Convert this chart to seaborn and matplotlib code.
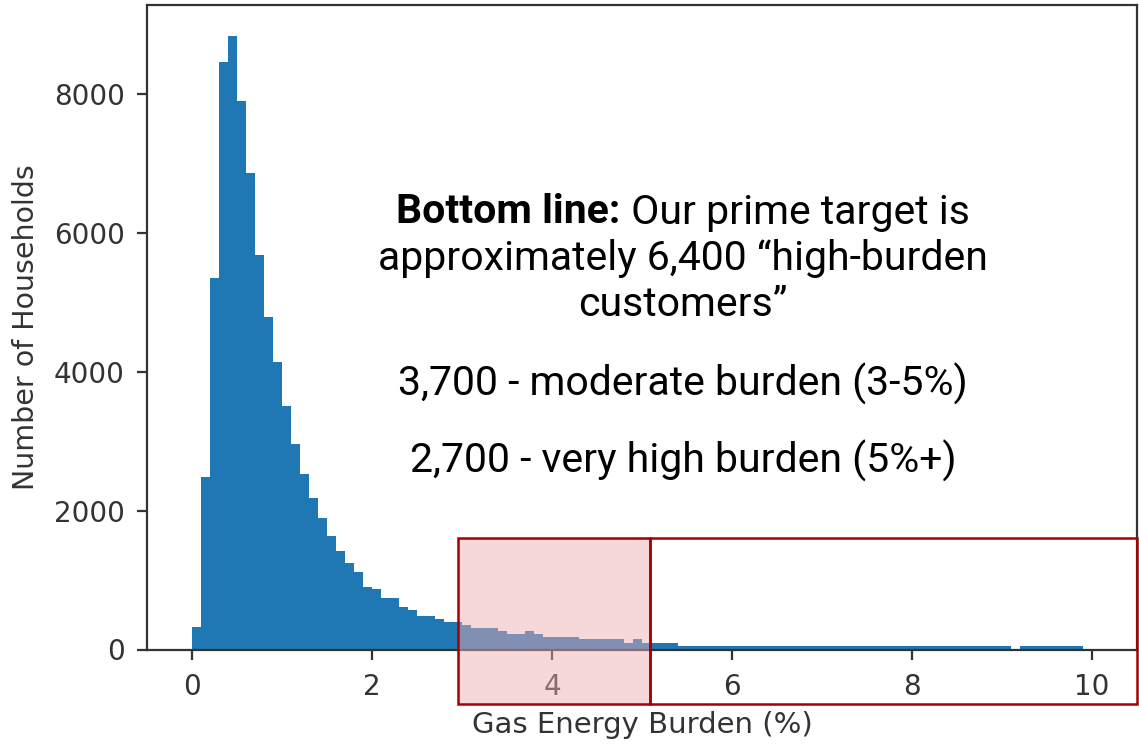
"""Gas energy burden histogram with high-burden annotation boxes"""
import numpy as np
import pandas as pd
import seaborn as sns
import matplotlib.pyplot as plt
from matplotlib.patches import Rectangle

# households per 0.1% bin of gas energy burden, bins 0.0-0.1 ... 9.9-10.0
bin_edges = [round(0.1 * i, 1) for i in range(101)]
counts = [320, 2490, 5350, 8470, 8845, 7910, 6875, 5685, 4795, 4145,
          3510, 2955, 2530, 2190, 1890, 1635, 1425, 1250, 1120, 905,
          865, 740, 740, 610, 570, 485, 485, 440, 400, 400,
          355, 315, 315, 305, 270, 225, 225, 270, 225, 185,
          185, 185, 185, 150, 150, 150, 150, 150, 100, 150,
          95, 100, 100, 100, 55, 55, 55, 55, 55, 55,
          55, 55, 55, 55, 55, 55, 55, 55, 55, 55,
          55, 55, 55, 55, 55, 55, 55, 55, 55, 55,
          55, 55, 55, 55, 55, 55, 55, 55, 55, 55,
          55, 0, 55, 55, 55, 55, 55, 55, 55, 0]
x_ticks = [0, 2, 4, 6, 8, 10]
y_ticks = [0, 2000, 4000, 6000, 8000]

headline_bold = "Bottom line:"
headline_rest = " Our prime target is"
headline_more = ["approximately 6,400 \u201chigh-burden", "customers\u201d"]
moderate_txt = "3,700 - moderate burden (3-5%)"
very_high_txt = "2,700 - very high burden (5%+)"

df = pd.DataFrame({"burden": np.array(bin_edges[:-1]) + 0.05, "households": counts})

sns.set_style("ticks")
plt.rcParams["font.family"] = ["DejaVu Sans"]

W, H = 1139, 747
fig = plt.figure(figsize=(W / 100, H / 100), dpi=100)
ax = fig.add_axes([147 / W, 1 - 649.5 / H, 990 / W, 644.5 / H])

sns.histplot(data=df, x="burden", weights="households", bins=bin_edges,
             element="step", fill=True, color="#1f77b4", alpha=1,
             linewidth=0, ax=ax)

ax.set_xlim(-0.5, 10.5)
ax.set_ylim(0, 9290)
ax.set_xticks(x_ticks)
ax.set_yticks(y_ticks)
ax.set_xlabel("Gas Energy Burden (%)", fontsize=21, color=".2", labelpad=7)
ax.set_ylabel("Number of Households", fontsize=20.5, color=".2", labelpad=10)
ax.tick_params(labelsize=20, length=7, width=1.6, colors=".2")
ax.tick_params(axis="x", pad=10)
ax.tick_params(axis="y", pad=9)
for sp in ax.spines.values():
    sp.set_linewidth(1.6)
    sp.set_color(".2")
    sp.set_visible(True)

# highlight boxes (figure pixel positions)
def fig_rect(x0, y0, x1, y1, **kw):
    r = Rectangle((x0 / W, 1 - y1 / H), (x1 - x0) / W, (y1 - y0) / H,
                  transform=fig.transFigure, **kw)
    fig.add_artist(r)

fig_rect(458, 538, 650, 704, facecolor="#f0acb1", alpha=0.47, edgecolor="none")
fig_rect(458, 538, 650, 704, facecolor="none", edgecolor="#a80000", linewidth=1.8)
fig_rect(650, 538, 1137, 704, facecolor="none", edgecolor="#a80000", linewidth=1.8)

# annotation text
cx = 683 / W
tfont = dict(family=["Roboto", "DejaVu Sans"], fontsize=29.5, color="black", va="center")
t1 = fig.text(0, 1 - 212 / H, headline_bold, weight="bold", **tfont)
t2 = fig.text(0, 1 - 212 / H, headline_rest, **tfont)
fig.canvas.draw()
r = fig.canvas.get_renderer()
w1 = t1.get_window_extent(r).width
w2 = t2.get_window_extent(r).width
x0 = 683 - (w1 + w2) / 2
t1.set_x(x0 / W)
t2.set_x((x0 + w1) / W)

fig.text(cx, 1 - 259 / H, headline_more[0], ha="center", **tfont)
fig.text(cx, 1 - 305 / H, headline_more[1], ha="center", **tfont)
fig.text(cx, 1 - 384 / H, moderate_txt, ha="center", **tfont)
fig.text(cx, 1 - 461 / H, very_high_txt, ha="center", **tfont)

plt.savefig("out.png", dpi=100)
